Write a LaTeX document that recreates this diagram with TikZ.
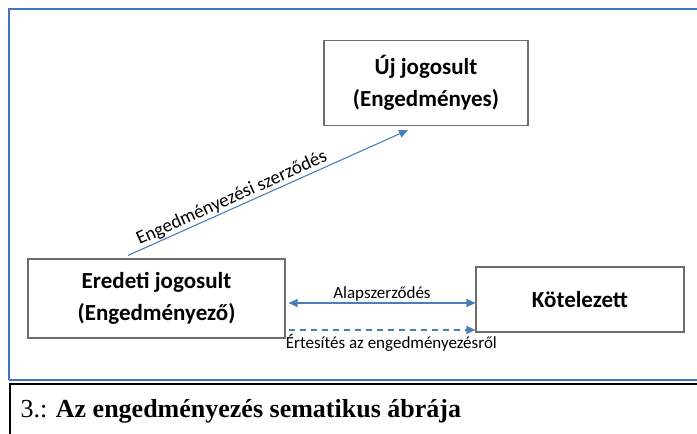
\documentclass[tikz,border=0pt]{standalone}
\usepackage{fontspec}
\setmainfont{Carlito}
\newfontfamily\capfont{Liberation Serif}
\usetikzlibrary{arrows.meta}

\definecolor{framecol}{HTML}{4472C4}
\definecolor{arrcol}{HTML}{4A7EBB}
\definecolor{boxcol}{HTML}{6E6E6E}

\begin{document}
\begin{tikzpicture}[x=1pt,y=-1pt,
   party/.style={draw=boxcol, line width=1.1pt, align=center, inner sep=0pt,
                 font=\fontsize{23}{32}\selectfont\bfseries},
   flow/.style={draw=arrcol, line width=1.1pt, -{Triangle[length=9pt,width=8pt]}},
   flowlabel/.style={font=\fontsize{17}{19}\selectfont, inner sep=2pt}]

   \useasboundingbox (0,0) rectangle (697,434);
   \clip (0,0) rectangle (697,434);

   % outer frame and caption box
   \draw[framecol, line width=2pt] (9,380) -- (9,9) -- (710,9);
   \draw[framecol, line width=2pt] (9,380) -- (710,380);
   \draw[black, line width=1.6pt] (710,384) -- (10,384) -- (10,440);
   \node[anchor=west, font=\capfont\fontsize{26}{28}\selectfont] (caption) at (17,411)
      {3.: \textbf{Az engedményezés sematikus ábrája}};

   % parties
   \node[party, minimum width=204pt, minimum height=85pt] (uj) at (426,83)
      {Új jogosult\\(Engedményes)};
   \node[party, minimum width=257pt, minimum height=79pt] (eredeti) at (156.5,298.5)
      {Eredeti jogosult\\(Engedményező)};
   \node[party, minimum width=208pt, minimum height=65pt] (kotelezett) at (580,299.5)
      {Kötelezett};

   % contracts
   \draw[flow] ([xshift=-28.5pt,yshift=3pt]eredeti.north) -- ([xshift=-18pt,yshift=-4pt]uj.south)
      node[flowlabel, pos=0.385, sloped, above, inner sep=1pt, font=\fontsize{19}{21}\selectfont] (cession) {Engedményezési szerződés};
   \draw[flow, {Triangle[length=9pt,width=8pt]}-{Triangle[length=9pt,width=8pt]}]
      ([xshift=3pt,yshift=-4.5pt]eredeti.east) -- ([yshift=-4.5pt]eredeti.east -| kotelezett.west)
      node[flowlabel, midway, above, inner sep=1pt] (alap) {Alapszerződés};
   \draw[flow, dashed, dash pattern=on 6pt off 5pt]
      ([xshift=3pt,yshift=-31.5pt]eredeti.east) -- ([yshift=-31.5pt]eredeti.east -| kotelezett.west)
      node[flowlabel, pos=0.55, below, inner sep=4pt] (ertesites) {Értesítés az engedményezésről};
\end{tikzpicture}
\end{document}
